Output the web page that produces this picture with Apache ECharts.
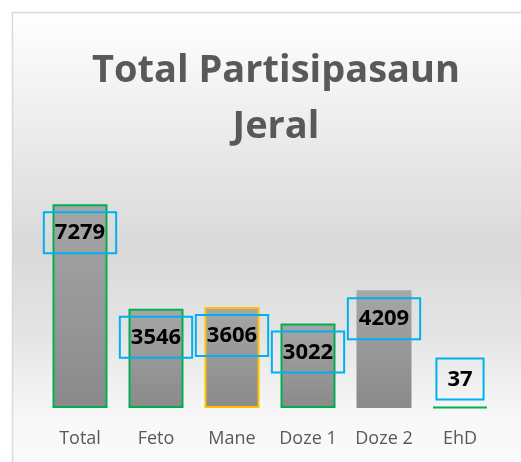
<!DOCTYPE html>
<html>
<head>
<meta charset="utf-8">
<script src="https://cdn.jsdelivr.net/npm/echarts@6/dist/echarts.min.js"></script>
<style>
  html, body { margin: 0; padding: 0; background: #fff; }
  #chart { width: 521px; height: 462px; }
</style>
</head>
<body>
<div id="chart"></div>
<script>
// data
const categories = ['Total', 'Feto', 'Mane', 'Doze 1', 'Doze 2', 'EhD'];
const values = [7279, 3546, 3606, 3022, 4209, 37];
const outlineColors = ['#00b050', '#00b050', '#ffc000', '#00b050', null, '#00b050'];

const chart = echarts.init(document.getElementById('chart'));

const barFill = new echarts.graphic.LinearGradient(0, 0, 0, 1, [
  { offset: 0, color: '#a6a6a6' },
  { offset: 1, color: '#8a8a8a' }
]);

const labelBase = {
  show: true,
  position: 'insideTop',
  distance: 8,
  color: '#000',
  fontFamily: 'Open Sans',
  fontWeight: 'bold',
  fontSize: 22,
  lineHeight: 26,
  borderColor: '#00b0f0',
  borderWidth: 2,
  padding: [8, 11, 7, 11]
};

const seriesData = values.map((v, i) => {
  const item = {
    value: v,
    itemStyle: {
      color: barFill,
      borderColor: outlineColors[i] || 'transparent',
      borderWidth: outlineColors[i] ? 2 : 0
    }
  };
  if (v < 500) {
    item.label = { position: 'top', distance: 7 };
  }
  return item;
});

chart.setOption({
  animation: false,
  graphic: [{
    type: 'rect',
    z: -10,
    shape: { x: 12.5, y: 12.5, width: 530, height: 470 },
    style: {
      stroke: '#d9d9d9',
      lineWidth: 1.5,
      fill: new echarts.graphic.LinearGradient(0, 0, 0, 1, [
        { offset: 0, color: '#ffffff' },
        { offset: 0.5, color: '#d9d9d9' },
        { offset: 0.68, color: '#e4e4e4' },
        { offset: 0.86, color: '#f8f8f8' },
        { offset: 1, color: '#fafafa' }
      ])
    }
  }],
  title: {
    text: 'Total Partisipasaun\nJeral',
    left: 271,
    top: 38,
    textAlign: 'center',
    textStyle: {
      fontFamily: 'Open Sans',
      fontWeight: 'bold',
      fontSize: 38,
      lineHeight: 56,
      color: '#595959'
    }
  },
  grid: { left: 42, right: 23, top: 184, bottom: 54 },
  xAxis: {
    type: 'category',
    data: categories,
    axisLine: { show: false },
    axisTick: { show: false },
    axisLabel: {
      interval: 0,
      color: '#595959',
      fontFamily: 'Open Sans',
      fontSize: 18,
      margin: 22
    }
  },
  yAxis: {
    type: 'value',
    min: 0,
    max: 8000,
    show: false,
    splitLine: { show: false }
  },
  series: [{
    type: 'bar',
    barWidth: 55,
    data: seriesData,
    label: labelBase
  }]
});
</script>
</body>
</html>
